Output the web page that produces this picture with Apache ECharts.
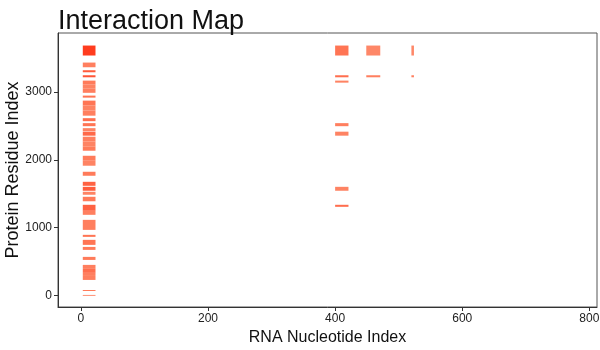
<!DOCTYPE html>
<html>
<head>
<meta charset="utf-8">
<script src="https://cdn.jsdelivr.net/npm/echarts@6/dist/echarts.min.js"></script>
<style>html,body{margin:0;padding:0;background:#fff}#c{width:600px;height:350px}</style>
</head>
<body>
<div id="c"></div>
<script>
// Nucleotide ranges of the interacting RNA segments
const nucSegStart = [3, 400, 449, 520];
const nucSegEnd   = [23, 421, 471, 524];
// Each tile: which segment, residue range, interaction score (0-1)
const tileSeg = [0,0,0,0,0,0,0,0,0,0, 0,0,0,0,0,0,0,0,0,0, 0,0,0,0,0,0,0,0,0,0, 0,0,0,0,0,0,0,0,
                 1,1,1,1,1,1,1, 2,2, 3,3];
const resStart = [3538,3365,3291,3217,3108,3048,2988,2917,2799,2725,
                  2651,2570,2496,2422,2356,2268,2193,2134,1986,1913,
                  1765,1617,1544,1485,1389,1248,1189,967,864,746,
                  672,524,392,333,288,229,66,-5,
                  3538,3217,3138,2496,2356,1544,1307, 3538,3217, 3538,3217];
const resEnd   = [3685,3434,3321,3247,3168,3108,3048,2947,2873,2799,
                  2725,2614,2541,2467,2415,2341,2268,2193,2060,1986,
                  1824,1676,1602,1529,1455,1337,1248,1115,894,820,
                  716,569,451,392,333,288,81,8,
                  3685,3247,3168,2541,2415,1602,1337, 3685,3247, 3685,3247];
const score    = [1.0,0.45,0.75,0.8,0.5,0.4,0.45,0.55,0.55,0.4,
                  0.45,0.6,0.55,0.4,0.65,0.45,0.4,0.5,0.5,0.4,
                  0.5,0.7,0.75,0.4,0.5,0.7,0.45,0.45,0.55,0.55,
                  0.5,0.5,0.45,0.6,0.45,0.45,0.5,0.4,
                  0.55,0.6,0.4,0.45,0.4,0.4,0.6, 0.35,0.45, 0.35,0.45];
const xTicks = [0,200,400,600,800];
const yTicks = [0,1000,2000,3000];
const ramp = ['#fca487','#ff7b5a','#ff3c1e'];

const tiles = score.map((v,i)=>[nucSegStart[tileSeg[i]],nucSegEnd[tileSeg[i]],resStart[i],resEnd[i],v]);

const chart = echarts.init(document.getElementById('c'), null, {renderer:'canvas'});
const font = 'Liberation Sans, Arial, sans-serif';
chart.setOption({
  animation:false,
  backgroundColor:'#fff',
  title:{text:'Interaction Map',left:53,top:3,textStyle:{fontFamily:font,fontSize:27,fontWeight:'normal',color:'#111'}},
  grid:{left:58,right:3,top:33,bottom:43,show:true,borderColor:'#555',borderWidth:1,outerBoundsMode:'none',containLabel:false},
  xAxis:{type:'value',min:-36,max:812,
    name:'RNA Nucleotide Index',nameLocation:'middle',nameGap:23,nameMoveOverlap:false,
    nameTextStyle:{fontFamily:font,fontSize:16,color:'#111'},
    axisLine:{show:true,onZero:false,lineStyle:{color:'#333'}},
    axisTick:{show:true,length:4,customValues:xTicks,lineStyle:{color:'#333'}},
    axisLabel:{customValues:xTicks,fontFamily:font,fontSize:12,color:'#222',margin:6,formatter:v=>String(v)},
    splitLine:{show:false}},
  yAxis:{type:'value',min:-170,max:3870,
    name:'Protein Residue Index',nameLocation:'middle',nameGap:36,nameMoveOverlap:false,
    nameTextStyle:{fontFamily:font,fontSize:18,color:'#111'},
    axisLine:{show:true,onZero:false,lineStyle:{color:'#333'}},
    axisTick:{show:true,length:4,customValues:yTicks,lineStyle:{color:'#333'}},
    axisLabel:{customValues:yTicks,fontFamily:font,fontSize:12,color:'#222',margin:6,formatter:v=>String(v)},
    splitLine:{show:false}},
  series:[{
    type:'custom',
    data:tiles,
    encode:{x:[0,1],y:[2,3]},
    renderItem:function(params,api){
      const p0 = api.coord([api.value(0),api.value(3)]);
      const p1 = api.coord([api.value(1),api.value(2)]);
      return {type:'rect',shape:{x:p0[0],y:p0[1],width:p1[0]-p0[0],height:p1[1]-p0[1]},
              style:{fill:echarts.color.lerp(api.value(4),ramp)}};
    }
  }]
});
</script>
</body>
</html>
